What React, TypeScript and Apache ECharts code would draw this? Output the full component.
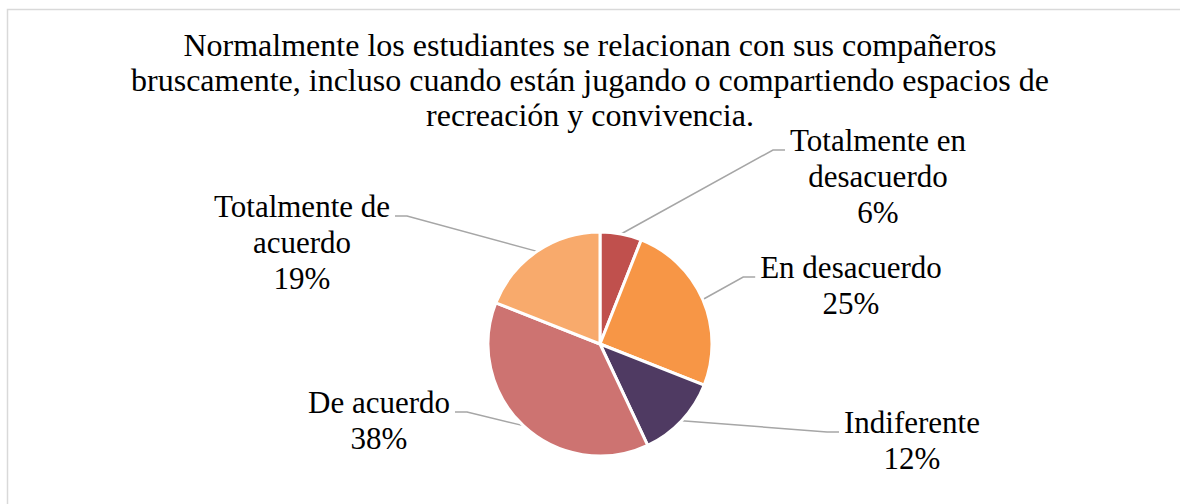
import React, { useEffect, useRef } from 'react';
import * as echarts from 'echarts';

const titleLines = [
  'Normalmente los estudiantes se relacionan con sus compañeros',
  'bruscamente, incluso cuando están jugando o compartiendo espacios de',
  'recreación y convivencia.',
];
const categories = [
  'Totalmente en desacuerdo',
  'En desacuerdo',
  'Indiferente',
  'De acuerdo',
  'Totalmente de acuerdo',
];
const labelTexts = [
  'Totalmente en\ndesacuerdo',
  'En desacuerdo',
  'Indiferente',
  'De acuerdo',
  'Totalmente de\nacuerdo',
];
const values = [6, 25, 12, 38, 19];
const colors = ['#C0504D', '#F79646', '#4F3A62', '#CD7371', '#F8AA6C'];

// label placement (layout only)
const labelCenterX = [878, 851, 912, 379, 302];
const labelTopY = [122, 249, 404, 384, 188];
const PIE_CX = 600;
const PIE_CY = 344;
const PIE_R = 112;

export default function App() {
  const ref = useRef<HTMLDivElement>(null);
  useEffect(() => {
    document.body.style.margin = '0';
    if (!ref.current) return;
    const chart = echarts.init(ref.current, null, { renderer: 'svg' });
    const font = 'Liberation Serif, Times New Roman, serif';
    chart.setOption({
      animation: false,
      backgroundColor: '#fff',
      title: {
        text: titleLines.join('\n'),
        left: 'center',
        top: 22,
        textStyle: {
          fontFamily: font,
          fontSize: 32,
          lineHeight: 35,
          fontWeight: 'normal',
          color: '#000',
        },
      },
      graphic: [
        {
          type: 'rect',
          silent: true,
          shape: { x: 7.5, y: 9.5, width: 1200, height: 600 },
          style: { fill: 'none', stroke: '#d9d9d9', lineWidth: 1.5 },
        },
      ],
      series: [
        {
          type: 'pie',
          center: [PIE_CX, PIE_CY],
          radius: PIE_R,
          startAngle: 90,
          clockwise: true,
          avoidLabelOverlap: false,
          itemStyle: { borderColor: '#fff', borderWidth: 3 },
          label: {
            show: true,
            position: 'outside',
            fontFamily: font,
            fontSize: 31,
            lineHeight: 36,
            color: '#000',
            formatter: (p: any) => `${labelTexts[p.dataIndex]}\n${Math.round(p.percent)}%`,
          },
          labelLine: {
            show: true,
            length: 20,
            length2: 12,
            lineStyle: { color: '#a6a6a6', width: 1.5 },
          },
          labelLayout: (p: any) => {
            const i = p.dataIndex;
            const cx = labelCenterX[i];
            const top = labelTopY[i];
            const start = p.labelLinePoints ? p.labelLinePoints[0] : null;
            const right = start ? start[0] > PIE_CX : cx > PIE_CX;
            const half = p.labelRect.width / 2;
            const endX = right ? cx - half - 5 : cx + half + 5;
            const lineY = top + 28;
            const kinkX = right ? endX - 12 : endX + 12;
            const out: any = { x: cx, y: top, align: 'center', verticalAlign: 'top' };
            if (start) out.labelLinePoints = [start, [kinkX, lineY], [endX, lineY]];
            return out;
          },
          data: categories.map((name, i) => ({
            name,
            value: values[i],
            itemStyle: { color: colors[i] },
          })),
        },
      ],
    });
    return () => chart.dispose();
  }, []);
  return <div ref={ref} style={{ width: 1180, height: 504 }} />;
}
